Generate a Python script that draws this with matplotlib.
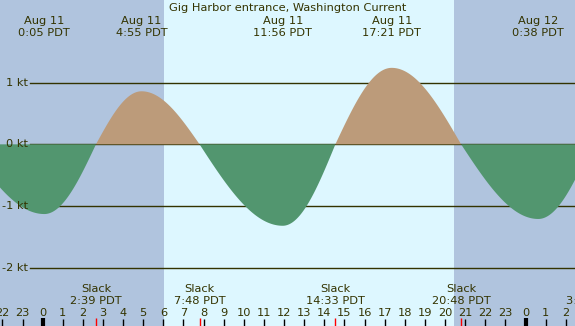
import numpy as np
import matplotlib
matplotlib.use("Agg")
import matplotlib.pyplot as plt
from matplotlib.transforms import blended_transform_factory

# ---- data (hours from Aug 11 00:00 PDT) ----
event_hours = [-3.75, 0.083, 2.65, 4.917, 7.80, 11.933, 14.55, 17.35, 20.80, 24.633, 27.3]
event_knots = [0.0, -1.13, 0.0, 0.86, 0.0, -1.32, 0.0, 1.24, 0.0, -1.21, 0.0]

extreme_hours = [0.083, 4.917, 11.933, 17.35, 24.633]
extreme_dates = ["Aug 11", "Aug 11", "Aug 11", "Aug 11", "Aug 12"]
extreme_times = ["0:05 PDT", "4:55 PDT", "11:56 PDT", "17:21 PDT", "0:38 PDT"]

slack_hours = [2.65, 7.80, 14.55, 20.80, 27.3]
slack_times = ["2:39 PDT", "7:48 PDT", "14:33 PDT", "20:48 PDT", "3:18 PDT"]

tick_hours = list(range(-2, 28))
tick_labels = [str(h % 24) for h in tick_hours]

kt_levels = [1, 0, -1, -2]
kt_labels = ["1 kt", "0 kt", "-1 kt", "-2 kt"]

sunrise, sunset = 6.03, 20.44
title = "Gig Harbor entrance, Washington Current"

# ---- style ----
W, H = 575, 326
night_c = "#b0c4de"
day_c = "#ddf7ff"
flood_c = "#52966f"
ebb_c = "#bc9b7a"
txt_c = "#333300"
XMIN, XMAX = -2.12, 26.46
YMIN, YMAX = -2.945, 2.34

fig = plt.figure(figsize=(W / 100, H / 100), dpi=100)
ax = fig.add_axes([0, 0, 1, 1])
ax.set_xlim(XMIN, XMAX)
ax.set_ylim(YMIN, YMAX)
ax.axis("off")
ax.add_patch(plt.Rectangle((0, 0), 1, 1, transform=ax.transAxes, color=day_c, zorder=0))
ax.axvspan(XMIN, sunrise, color=night_c, lw=0, zorder=1)
ax.axvspan(sunset, XMAX, color=night_c, lw=0, zorder=1)

# smooth curve through events (quarter-sine segments between slack and extremum)
t = np.linspace(XMIN, XMAX, 3000)
v = np.zeros_like(t)
eh = np.array(event_hours)
ek = np.array(event_knots)
for i in range(len(eh) - 1):
    m = (t >= eh[i]) & (t <= eh[i + 1])
    f = (t[m] - eh[i]) / (eh[i + 1] - eh[i])
    if ek[i] == 0:
        v[m] = ek[i + 1] * np.sin(np.pi / 2 * f)
    else:
        v[m] = ek[i] * np.cos(np.pi / 2 * f)

for lvl in kt_levels:
    ax.axhline(lvl, xmin=30 / W, xmax=1, color=txt_c, lw=1.0, zorder=2)

ax.fill_between(t, v, 0, where=v <= 0, interpolate=True, color=flood_c, lw=0, zorder=3)
ax.fill_between(t, v, 0, where=v >= 0, interpolate=True, color=ebb_c, lw=0, zorder=3)

fs = 8.2
ya = lambda px: 1 - px / H
bt = blended_transform_factory(ax.transData, ax.transAxes)

for lvl, lab in zip(kt_levels, kt_labels):
    ax.text(28 / W, lvl, lab, transform=blended_transform_factory(ax.transAxes, ax.transData),
            ha="right", va="center", fontsize=fs, color=txt_c, zorder=5)

ax.text(0.5, ya(11), title, transform=ax.transAxes, ha="center", va="baseline",
        fontsize=fs, color=txt_c, zorder=5)
for h, d, tm in zip(extreme_hours, extreme_dates, extreme_times):
    ax.text(h, ya(23.5), d, transform=bt, ha="center", va="baseline", fontsize=fs, color=txt_c, zorder=5)
    ax.text(h, ya(36), tm, transform=bt, ha="center", va="baseline", fontsize=fs, color=txt_c, zorder=5)

for h, tm in zip(slack_hours, slack_times):
    ax.text(h, ya(291.7), "Slack", transform=bt, ha="center", va="baseline", fontsize=fs, color=txt_c, zorder=5)
    ax.text(h, ya(303.5), tm, transform=bt, ha="center", va="baseline", fontsize=fs, color=txt_c, zorder=5)
    ax.vlines(h, ya(326), ya(318), transform=bt, color="red", lw=1.0, zorder=6)

for h, lab in zip(tick_hours, tick_labels):
    ax.text(h, ya(316), lab, transform=bt, ha="center", va="baseline", fontsize=fs, color=txt_c, zorder=5)
    if h % 24 == 0:
        ax.vlines(h, ya(326), ya(318), transform=bt, color="black", lw=3.0, zorder=6)
    else:
        ax.vlines(h, ya(326), ya(319), transform=bt, color="black", lw=1.0, zorder=6)

fig.savefig("out.png", dpi=100)
